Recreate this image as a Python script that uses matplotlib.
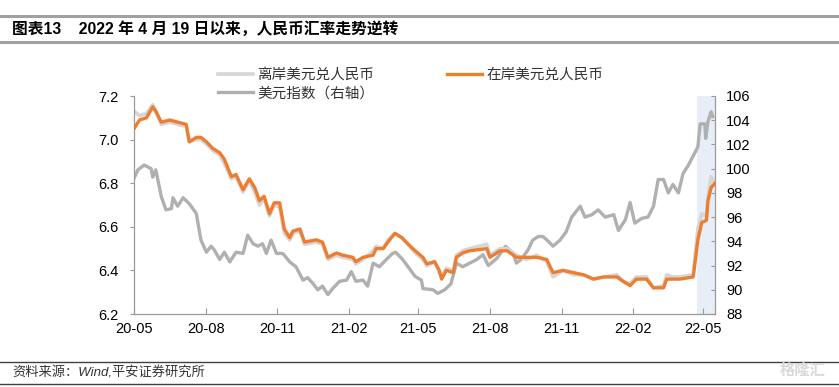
import numpy as np
import pandas as pd
import matplotlib
matplotlib.use("Agg")
import matplotlib.pyplot as plt
import matplotlib.dates as mdates

plt.rcParams['font.family'] = ['Liberation Sans', 'Noto Sans CJK SC', 'DejaVu Sans']

# 在岸 / 离岸美元兑人民币 (left axis)
fx_dates = ['2020-05-01', '2020-05-08', '2020-05-17', '2020-05-25', '2020-05-29', '2020-06-05',
            '2020-06-16', '2020-06-26', '2020-07-07', '2020-07-11', '2020-07-20', '2020-07-26',
            '2020-08-02', '2020-08-10', '2020-08-19', '2020-08-25', '2020-09-03', '2020-09-09',
            '2020-09-18', '2020-09-26', '2020-10-03', '2020-10-09', '2020-10-15', '2020-10-22',
            '2020-10-28', '2020-11-04', '2020-11-10', '2020-11-17', '2020-11-21', '2020-11-30',
            '2020-12-06', '2020-12-21', '2020-12-29', '2021-01-05', '2021-01-16', '2021-01-24',
            '2021-02-06', '2021-02-10', '2021-02-19', '2021-03-04', '2021-03-08', '2021-03-17',
            '2021-03-23', '2021-04-01', '2021-04-10', '2021-04-18', '2021-04-27', '2021-05-07',
            '2021-05-12', '2021-05-22', '2021-05-28', '2021-05-31', '2021-06-06', '2021-06-15',
            '2021-06-19', '2021-06-27', '2021-07-06', '2021-07-28', '2021-08-01', '2021-08-14',
            '2021-08-23', '2021-09-04', '2021-09-17', '2021-09-30', '2021-10-13', '2021-10-21',
            '2021-11-03', '2021-11-16', '2021-11-29', '2021-12-12', '2021-12-25', '2022-01-11',
            '2022-01-19', '2022-01-28', '2022-02-05', '2022-02-18', '2022-02-27', '2022-03-12',
            '2022-03-16', '2022-03-24', '2022-04-02', '2022-04-19', '2022-04-25', '2022-04-30',
            '2022-05-06', '2022-05-08', '2022-05-12', '2022-05-17']
cny = [7.05, 7.09, 7.10, 7.15, 7.13, 7.08,
       7.09, 7.08, 7.07, 6.99, 7.01, 7.01,
       6.99, 6.96, 6.94, 6.91, 6.83, 6.84,
       6.77, 6.82, 6.78, 6.72, 6.74, 6.66,
       6.71, 6.71, 6.59, 6.55, 6.58, 6.59,
       6.53, 6.54, 6.53, 6.46, 6.48, 6.47,
       6.46, 6.44, 6.46, 6.47, 6.50, 6.50,
       6.53, 6.57, 6.55, 6.52, 6.49, 6.46,
       6.43, 6.44, 6.40, 6.36, 6.40, 6.39,
       6.46, 6.48, 6.49, 6.50, 6.46, 6.49,
       6.49, 6.46, 6.46, 6.46, 6.45, 6.39,
       6.40, 6.39, 6.38, 6.36, 6.37, 6.37,
       6.35, 6.33, 6.36, 6.36, 6.32, 6.32,
       6.36, 6.36, 6.36, 6.37, 6.54, 6.62,
       6.63, 6.72, 6.78, 6.80]
cnh = [7.13, 7.11, 7.12, 7.16, 7.13, 7.07,
       7.08, 7.07, 7.06, 6.99, 7.00, 7.00,
       6.98, 6.95, 6.93, 6.89, 6.82, 6.83,
       6.76, 6.81, 6.76, 6.70, 6.73, 6.65,
       6.70, 6.69, 6.57, 6.54, 6.57, 6.58,
       6.52, 6.53, 6.52, 6.45, 6.47, 6.46,
       6.45, 6.43, 6.45, 6.49, 6.51, 6.50,
       6.54, 6.57, 6.55, 6.52, 6.48, 6.45,
       6.42, 6.44, 6.39, 6.37, 6.41, 6.40,
       6.47, 6.49, 6.50, 6.52, 6.47, 6.50,
       6.50, 6.47, 6.45, 6.47, 6.44, 6.37,
       6.40, 6.38, 6.38, 6.36, 6.37, 6.38,
       6.35, 6.34, 6.37, 6.37, 6.32, 6.33,
       6.38, 6.37, 6.37, 6.38, 6.59, 6.66,
       6.65, 6.74, 6.83, 6.80]

# 美元指数 (right axis)
dxy_dates = ['2020-05-01', '2020-05-06', '2020-05-14', '2020-05-23', '2020-05-25', '2020-05-29',
             '2020-06-05', '2020-06-11', '2020-06-18', '2020-06-20', '2020-06-26', '2020-07-03',
             '2020-07-11', '2020-07-20', '2020-07-26', '2020-08-02', '2020-08-08', '2020-08-12',
             '2020-08-19', '2020-08-25', '2020-09-01', '2020-09-09', '2020-09-18', '2020-09-24',
             '2020-10-01', '2020-10-07', '2020-10-13', '2020-10-18', '2020-10-24', '2020-10-31',
             '2020-11-08', '2020-11-17', '2020-11-25', '2020-12-04', '2020-12-10', '2020-12-17',
             '2020-12-23', '2020-12-29', '2021-01-05', '2021-01-11', '2021-01-20', '2021-01-29',
             '2021-02-04', '2021-02-10', '2021-02-19', '2021-02-25', '2021-03-04', '2021-03-12',
             '2021-03-21', '2021-03-29', '2021-04-02', '2021-04-11', '2021-04-19', '2021-04-27',
             '2021-05-05', '2021-05-07', '2021-05-20', '2021-05-26', '2021-06-04', '2021-06-12',
             '2021-06-19', '2021-06-27', '2021-07-06', '2021-07-15', '2021-07-23', '2021-07-30',
             '2021-08-10', '2021-08-21', '2021-08-31', '2021-09-04', '2021-09-10', '2021-09-19',
             '2021-09-25', '2021-10-02', '2021-10-08', '2021-10-15', '2021-10-21', '2021-10-30',
             '2021-11-07', '2021-11-14', '2021-11-25', '2021-12-01', '2021-12-10', '2021-12-18',
             '2021-12-27', '2022-01-07', '2022-01-13', '2022-01-22', '2022-01-28', '2022-02-03',
             '2022-02-12', '2022-02-20', '2022-02-27', '2022-03-05', '2022-03-12', '2022-03-18',
             '2022-03-24', '2022-03-31', '2022-04-06', '2022-04-12', '2022-04-21', '2022-04-25',
             '2022-04-28', '2022-05-04', '2022-05-05', '2022-05-08', '2022-05-12', '2022-05-14']
dxy = [99.2, 99.9, 100.3, 100.0, 99.3, 99.9,
       97.7, 96.6, 96.7, 97.6, 96.9, 97.6,
       97.1, 96.3, 94.1, 93.1, 93.6, 93.3,
       92.5, 93.1, 92.3, 93.1, 93.0, 94.5,
       93.8, 93.6, 93.8, 93.0, 94.1, 93.0,
       93.0, 92.3, 91.9, 90.8, 91.0, 90.5,
       90.0, 90.3, 89.6, 90.1, 90.7, 90.8,
       91.5, 90.7, 90.8, 90.3, 92.2, 91.9,
       92.5, 93.0, 93.1, 92.5, 91.8, 91.1,
       90.8, 90.1, 90.0, 89.7, 90.0, 90.5,
       92.2, 91.9, 92.2, 92.5, 92.9, 92.0,
       92.6, 93.6, 93.0, 92.2, 92.5, 93.3,
       94.1, 94.4, 94.4, 94.0, 93.6, 94.1,
       94.8, 96.0, 96.9, 96.0, 96.2, 96.6,
       96.0, 96.2, 94.9, 95.8, 97.2, 95.5,
       95.9, 96.0, 96.9, 99.1, 99.1, 98.0,
       98.7, 98.0, 99.6, 100.2, 101.3, 101.8,
       103.7, 103.7, 102.5, 103.9, 104.7, 104.3]

x_ticks = ['2020-05-01', '2020-08-01', '2020-11-01', '2021-02-01', '2021-05-01',
           '2021-08-01', '2021-11-01', '2022-02-01', '2022-05-01']
shade_start, x_end = '2022-04-24', '2022-05-17'

fx_d = pd.to_datetime(fx_dates)
dxy_d = pd.to_datetime(dxy_dates)

fig = plt.figure(figsize=(8.39, 3.87), dpi=100)
ax = fig.add_axes([134 / 839, 1 - 314 / 387, (715 - 134) / 839, (314 - 96) / 387])
ax2 = ax.twinx()

axis_col = '#9a9a9a'
ax2.axvspan(pd.Timestamp(shade_start), pd.Timestamp(x_end), color='#e8eef7', zorder=0, lw=0)
l_cnh, = ax.plot(fx_d, cnh, color='#d6d6d6', lw=2.6, zorder=2)
l_cny, = ax.plot(fx_d, cny, color='#ed7d31', lw=2.4, zorder=4)
l_dxy, = ax2.plot(dxy_d, dxy, color='#b0b0b0', lw=2.4, zorder=3)
ax.set_zorder(ax2.get_zorder() + 1)
ax.patch.set_visible(False)

ax.set_xlim(pd.Timestamp('2020-05-01'), pd.Timestamp(x_end))
ax.set_ylim(6.2, 7.2)
ax2.set_ylim(88, 106)
ax.set_yticks(np.arange(6.2, 7.21, 0.2))
ax.set_yticklabels([f'{v:.1f}' for v in np.arange(6.2, 7.21, 0.2)])
ax2.set_yticks(np.arange(88, 107, 2))
ax.set_xticks(pd.to_datetime(x_ticks))
ax.xaxis.set_major_formatter(mdates.DateFormatter('%y-%m'))

for a in (ax, ax2):
    for s in a.spines.values():
        s.set_color(axis_col)
        s.set_linewidth(0.9)
    a.spines['top'].set_visible(False)
ax.spines['right'].set_visible(False)
ax2.spines['left'].set_visible(False)
ax2.spines['bottom'].set_visible(False)

ax.tick_params(axis='x', direction='in', length=4, color=axis_col, labelsize=10.5, pad=6)
ax.tick_params(axis='y', direction='out', length=3, color=axis_col, labelsize=10.5, pad=8)
ax2.tick_params(axis='y', direction='in', length=3, color=axis_col, labelsize=10.5, pad=8)

leg = fig.legend([l_cnh, l_dxy, l_cny], ['离岸美元兑人民币', '美元指数（右轴）', '在岸美元兑人民币'],
                 ncol=2, loc='upper left', bbox_to_anchor=(205 / 839, 1 - 55 / 387),
                 frameon=False, fontsize=10.5, handlelength=2.4, handletextpad=0.3,
                 columnspacing=5.0, labelspacing=0.3)
for t in leg.get_texts():
    t.set_color('#333333')

# title and source
fig.add_artist(plt.Line2D([0, 1], [1 - 15.5 / 387] * 2, color='#a0a0a0', lw=2.2))
fig.add_artist(plt.Line2D([0, 1], [1 - 41.5 / 387] * 2, color='#a0a0a0', lw=2.2))
fig.text(12 / 839, 1 - 28.5 / 387, '图表13    2022 年 4 月 19 日以来，人民币汇率走势逆转',
         fontsize=11.3, fontweight='bold', va='center', ha='left')
fig.add_artist(plt.Line2D([0, 1], [1 - 362 / 387] * 2, color='#404040', lw=1.0))
fig.add_artist(plt.Line2D([0, 1], [1 - 384 / 387] * 2, color='#404040', lw=1.0))
fig.text(12 / 839, 1 - 373 / 387, '资料来源：Wind,平安证券研究所', fontsize=9.5,
         style='italic', va='center', ha='left', color='#333333')
fig.text(825 / 839, 1 - 371 / 387, '格隆汇', fontsize=11, va='center', ha='right',
         color='#d8d8d8', fontweight='bold')

fig.savefig('out.png', dpi=100)
